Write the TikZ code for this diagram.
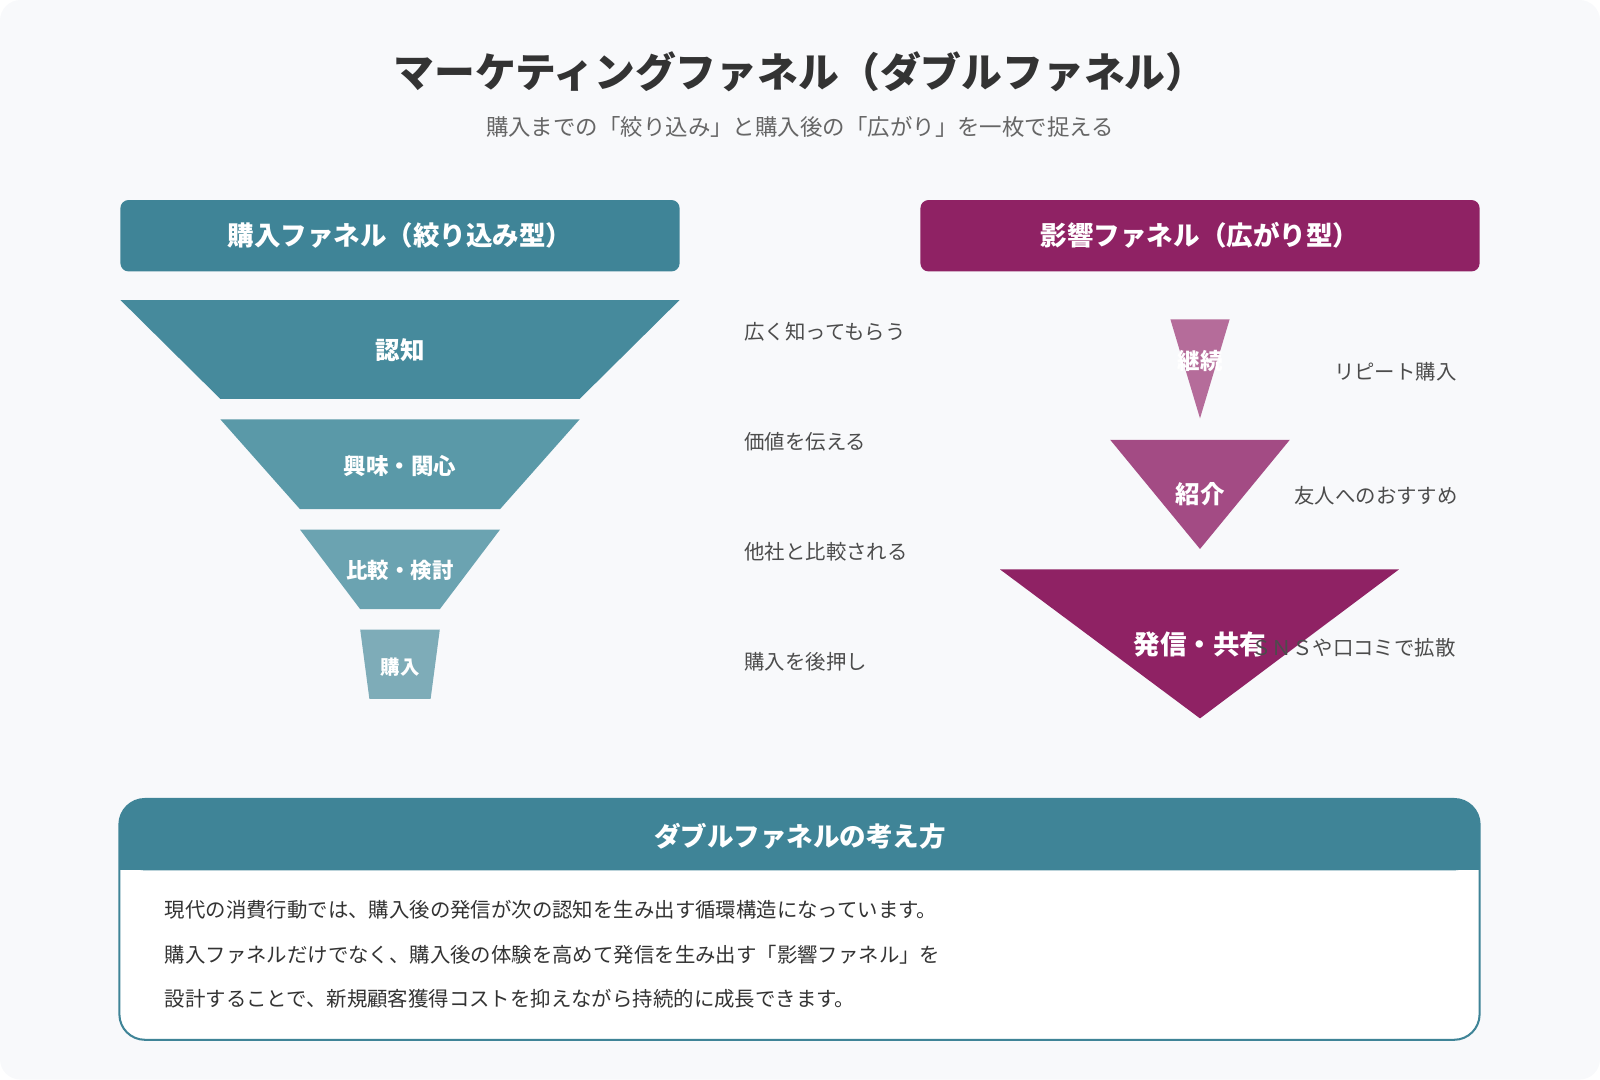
\documentclass[tikz,border=0pt]{standalone}
\usepackage{fontspec}
\setmainfont{Noto Sans CJK JP}
\newfontfamily\jpb{Noto Sans CJK JP}[FakeBold=0]
\begin{document}
\begin{tikzpicture}[x=1pt,y=-1pt,
  lbl/.style={text=white,font=\bfseries\fontsize{#1}{#1}\selectfont},
  side/.style={text=black!70,font=\fontsize{20}{20}\selectfont},
  hdr/.style={rounded corners=8pt,minimum width=548pt,minimum height=70pt,text=white,font=\bfseries\fontsize{26}{26}\selectfont},
  body/.style={text=black!80,font=\fontsize{20}{20}\selectfont,anchor=west}]
\definecolor{bg}{HTML}{F8F9FB}
\definecolor{teal}{HTML}{3F8497}
\definecolor{plum}{HTML}{8F2264}
\useasboundingbox (0,0) rectangle (1568,1058);
\fill[bg,rounded corners=20pt] (0,0) rectangle (1568,1058);
\node[text=black!80,font=\bfseries\fontsize{40}{40}\selectfont] (title) at (784,70) {マーケティングファネル（ダブルファネル）};
\node[text=black!60,font=\fontsize{22}{22}\selectfont] (sub) at (784,124) {購入までの「絞り込み」と購入後の「広がり」を一枚で捉える};
\node[hdr,fill=teal] (hl) at (392,231) {購入ファネル（絞り込み型）};
\node[hdr,fill=plum] (hr) at (1176,231) {影響ファネル（広がり型）};
% left funnel
\fill[fill={rgb,255:red,70;green,138;blue,156}] (118,294)--(666,294)--(568,391)--(216,391)--cycle;
\fill[fill={rgb,255:red,90;green,153;blue,168}] (216,411)--(568,411)--(490,499)--(294,499)--cycle;
\fill[fill={rgb,255:red,107;green,163;blue,177}] (294,519)--(490,519)--(431,597)--(353,597)--cycle;
\fill[fill={rgb,255:red,126;green,172;blue,184}] (353,617)--(431,617)--(422,685)--(362,685)--cycle;
\node[lbl=24] (l1) at (392,343) {認知};
\node[lbl=22] (l2) at (392,457) {興味・関心};
\node[lbl=21] (l3) at (392,559) {比較・検討};
\node[lbl=19] (l4) at (392,654) {購入};
\node[side,anchor=west] (s1) at (726,325) {広く知ってもらう};
\node[side,anchor=west] (s2) at (726,433) {価値を伝える};
\node[side,anchor=west] (s3) at (726,541) {他社と比較される};
\node[side,anchor=west] (s4) at (726,649) {購入を後押し};
% right funnel
\fill[fill={rgb,255:red,181;green,108;blue,154}] (1147,313)--(1205,313)--(1176,410)--cycle;
\fill[fill={rgb,255:red,163;green,75;blue,132}] (1088,431)--(1264,431)--(1176,538)--cycle;
\fill[fill=plum] (980,558)--(1371,558)--(1176,704)--cycle;
\node[lbl=22] (r1) at (1176,354) {継続};
\node[lbl=24] (r2) at (1176,484) {紹介};
\node[lbl=26] (r3) at (1176,632) {発信・共有};
\node[side,anchor=east] (t1) at (1431,364) {リピート購入};
\node[side,anchor=east] (t2) at (1432,486) {友人へのおすすめ};
\node[side,anchor=east] (t3) at (1430,635) {ＳＮＳや口コミで拡散};
% bottom box
\draw[teal,line width=2pt,fill=white,rounded corners=25pt] (117,783) rectangle (1450,1019);
\fill[teal,rounded corners=25pt] (117,783) -- (1450,783) -- (1450,853) -- (117,853) -- cycle;
\fill[teal] (117,830) rectangle (1450,853);
\node[text=white,font=\bfseries\fontsize{26}{26}\selectfont] (bh) at (784,820) {ダブルファネルの考え方};
\node[body] (b1) at (158,892) {現代の消費行動では、購入後の発信が次の認知を生み出す循環構造になっています。};
\node[body] (b2) at (158,936) {購入ファネルだけでなく、購入後の体験を高めて発信を生み出す「影響ファネル」を};
\node[body] (b3) at (158,979) {設計することで、新規顧客獲得コストを抑えながら持続的に成長できます。};
\end{tikzpicture}
\end{document}
